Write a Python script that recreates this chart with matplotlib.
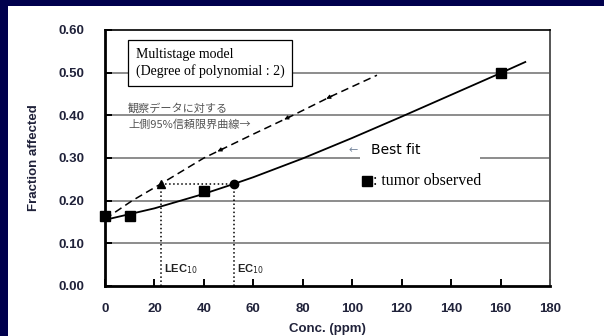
"""
Multistage model fit with upper 95% confidence bound, LEC10 / EC10.
"""

import numpy as np
import matplotlib
matplotlib.use('Agg')
import matplotlib.pyplot as plt
from matplotlib.patches import Rectangle

# observed tumor fractions
obs_conc = [0, 10, 40, 160]
obs_frac = [0.163, 0.163, 0.222, 0.50]

# best fit curve
fit_conc = [0, 20, 40, 52, 60, 80, 100, 120, 140, 160, 170]
fit_frac = [0.155, 0.182, 0.216, 0.239, 0.255, 0.299, 0.347, 0.397, 0.448, 0.499, 0.525]

# upper 95% confidence bound curve
ucl_conc = [0, 11, 22.5, 40, 60, 76, 92, 110]
ucl_frac = [0.157, 0.200, 0.239, 0.300, 0.356, 0.400, 0.446, 0.494]
ucl_arrows = [48, 75, 92]

lec10 = 22.5
ec10 = 52
bmr_frac = 0.239

x_ticks = [0, 20, 40, 60, 80, 100, 120, 140, 160, 180]
y_ticks = [0.0, 0.1, 0.2, 0.3, 0.4, 0.5, 0.6]

TICK_COLOR = '#20223a'
NAVY = '#00004d'

fig = plt.figure(figsize=(6.04, 3.36), dpi=100)
fig.patch.set_facecolor(NAVY)
fig.patches.append(Rectangle((8 / 604, 0), 1, 1 - 6 / 336, transform=fig.transFigure,
                             facecolor='white', edgecolor='none', zorder=-5))

ax = fig.add_axes([105 / 604, 1 - 286 / 336, 445 / 604, 256 / 336])
ax.set_facecolor('white')
ax.set_xlim(0, 180)
ax.set_ylim(0, 0.6)

# horizontal grid
for y in y_ticks[1:-1]:
    ax.axhline(y, color='#8c8c8c', linewidth=1.4, zorder=1)

# white patch behind the "Best fit" label
ax.add_patch(Rectangle((103.2, 0.29), 48.5, 0.045, facecolor='white',
                       edgecolor='none', zorder=2))

# best fit and upper bound
ax.plot(fit_conc, fit_frac, color='black', linewidth=1.3, zorder=3)
ax.plot(ucl_conc, ucl_frac, color='black', linewidth=1.1, linestyle=(0, (5, 3)), zorder=3)
for xa in ucl_arrows:
    ya = np.interp(xa, ucl_conc, ucl_frac)
    xb = xa - 2.5
    yb = np.interp(xb, ucl_conc, ucl_frac)
    ax.annotate('', xy=(xb, yb), xytext=(xa, ya),
                arrowprops=dict(arrowstyle='-|>', color='black', lw=0.8,
                                mutation_scale=6, shrinkA=0, shrinkB=0), zorder=4)

# LEC10 / EC10 guides
ax.plot([lec10, lec10], [0, bmr_frac], color='black', linestyle=':', linewidth=1.1, zorder=3)
ax.plot([ec10, ec10], [0, bmr_frac], color='black', linestyle=':', linewidth=1.1, zorder=3)
ax.plot([lec10, ec10], [bmr_frac, bmr_frac], color='black', linestyle=':', linewidth=1.1, zorder=3)
ax.plot(lec10, bmr_frac, marker='^', color='black', markersize=6, zorder=5)
ax.plot(ec10, bmr_frac, marker='o', color='black', markersize=6, zorder=5)

ax.plot(obs_conc, obs_frac, 's', color='black', markersize=7.5, clip_on=False, zorder=6)

# annotations
ax.text(12.5, 0.523, 'Multistage model\n(Degree of polynomial : 2)',
        family='Liberation Serif', fontsize=10, va='center', ha='left',
        linespacing=1.3, zorder=6,
        bbox=dict(boxstyle='square,pad=0.55', facecolor='white',
                  edgecolor='black', linewidth=0.9))
ax.text(9.3, 0.398, '観察データに対する\n上側95%信頼限界曲線→',
        family=['Noto Sans CJK JP', 'DejaVu Sans'], fontsize=8, color='#555555',
        va='center', ha='left', linespacing=1.65, zorder=6)
ax.text(98.5, 0.318, '←', fontsize=8, color='#7a8aa0', va='center', ha='left', zorder=6)
ax.text(107.5, 0.318, 'Best fit', family='DejaVu Sans', fontsize=10,
        va='center', ha='left', zorder=6)
ax.plot(106, 0.246, 's', color='black', markersize=7.5, clip_on=False, zorder=6)
ax.text(108.6, 0.246, ': tumor observed', family='Liberation Serif', fontsize=11.5,
        va='center', ha='left', zorder=6)
ax.text(lec10 + 1.2, 0.04, 'LEC$_{10}$', fontsize=8, fontweight='bold',
        family='Liberation Sans', color='#222222', va='center', ha='left', zorder=6)
ax.text(ec10 + 1.5, 0.04, 'EC$_{10}$', fontsize=8, fontweight='bold',
        family='Liberation Sans', color='#222222', va='center', ha='left', zorder=6)

# axes styling
ax.set_xticks(x_ticks)
ax.set_yticks(y_ticks)
ax.set_xticklabels([str(v) for v in x_ticks])
ax.set_yticklabels([f'{v:.2f}' for v in y_ticks])
ax.tick_params(axis='both', direction='in', length=5, width=1.4, color='black',
               labelsize=9.5, labelcolor=TICK_COLOR)
ax.tick_params(axis='y', pad=15)
ax.tick_params(axis='x', pad=12)
for lab in ax.get_xticklabels() + ax.get_yticklabels():
    lab.set_fontweight('bold')
    lab.set_family('Liberation Sans')

ax.spines['left'].set_linewidth(2.0)
ax.spines['bottom'].set_linewidth(2.0)
ax.spines['top'].set_linewidth(1.2)
ax.spines['right'].set_linewidth(1.4)
ax.spines['right'].set_color('#555555')

ax.set_xlabel('Conc. (ppm)', fontsize=9.5, fontweight='bold', family='Liberation Sans',
              color=TICK_COLOR)
ax.set_ylabel('Fraction affected', fontsize=9.5, fontweight='bold', family='Liberation Sans',
              color=TICK_COLOR)
ax.xaxis.set_label_coords(0.5, -0.145)
ax.yaxis.set_label_coords(-0.146, 0.5)

fig.savefig('out.png', dpi=100, facecolor=fig.get_facecolor())
